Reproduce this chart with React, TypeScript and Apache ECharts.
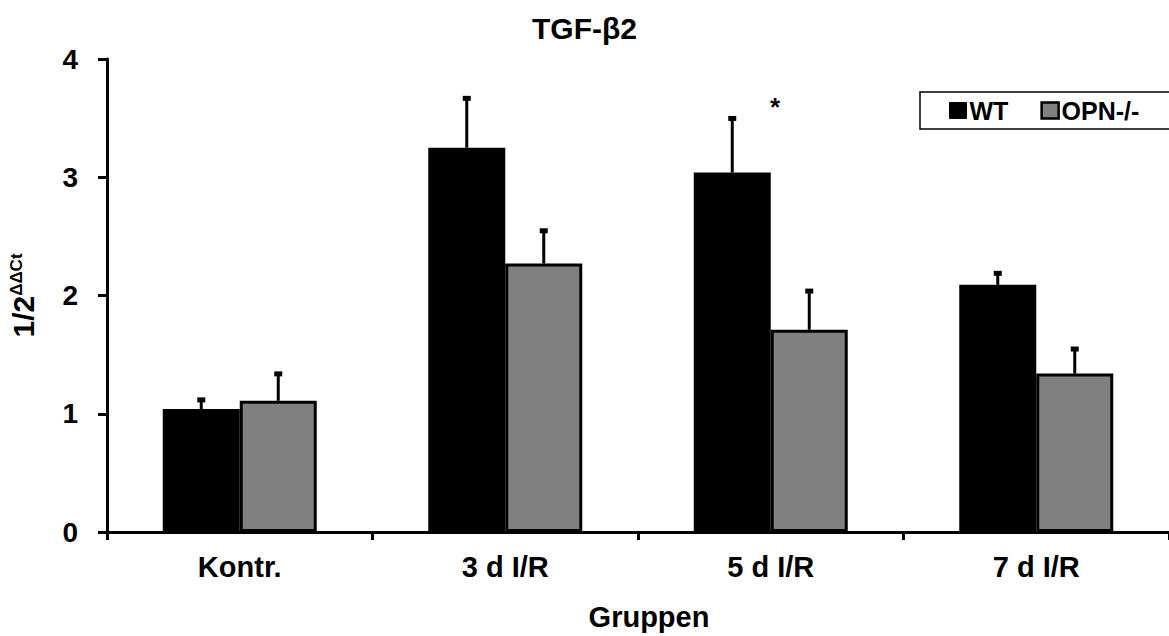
import React, { useEffect, useRef } from "react";
import * as echarts from "echarts";

const categories = ["Kontr.", "3 d I/R", "5 d I/R", "7 d I/R"];
const wtValues = [1.04, 3.25, 3.04, 2.09];
const wtErrorTops = [1.13, 3.68, 3.51, 2.2];
const opnValues = [1.11, 2.27, 1.71, 1.34];
const opnErrorTops = [1.35, 2.56, 2.05, 1.56];
const yTicks = [0, 1, 2, 3, 4];

const FONT = "Liberation Sans, Arial, sans-serif";
const BAR_FRAC = 0.29;

function errorSeries(name: string, values: number[], tops: number[], side: number) {
  return {
    type: "custom",
    name: name + "-err",
    z: 1,
    silent: true,
    data: values.map((v, i) => [i, tops[i], v]),
    renderItem: (params: any, api: any) => {
      const band = api.size([1, 0])[0];
      const off = side * band * BAR_FRAC * 0.5;
      const x = api.coord([api.value(0), 0])[0] + off;
      const yTop = api.coord([api.value(0), api.value(1)])[1];
      const yBase = api.coord([api.value(0), api.value(2)])[1];
      return {
        type: "group",
        children: [
          {
            type: "line",
            shape: { x1: x, y1: yBase, x2: x, y2: yTop + 2 },
            style: { stroke: "#000", lineWidth: 3 },
          },
          {
            type: "rect",
            shape: { x: x - 4, y: yTop - 1, width: 8, height: 5 },
            style: { fill: "#000" },
          },
        ],
      };
    },
  };
}

export default function App() {
  const ref = useRef<HTMLDivElement>(null);
  useEffect(() => {
    document.body.style.margin = "0";
    const chart = echarts.init(ref.current!, null, { renderer: "svg" });
    chart.setOption({
      animation: false,
      backgroundColor: "#fff",
      textStyle: { fontFamily: FONT },
      title: {
        text: "TGF-β2",
        left: "center",
        top: 8,
        textStyle: { fontFamily: FONT, fontSize: 30, fontWeight: "bold", color: "#000" },
      },
      legend: {
        left: 920,
        top: 92,
        width: 300,
        orient: "horizontal",
        data: [
          { name: "WT", itemStyle: { color: "#000", borderColor: "#000", borderWidth: 1 } },
          { name: "OPN-/-", itemStyle: { color: "#808080", borderColor: "#000", borderWidth: 2.5 } },
        ],
        icon: "rect",
        itemWidth: 17,
        itemHeight: 16,
        itemGap: 32,
        padding: [6, 40, 6, 29],
        borderColor: "#000",
        borderWidth: 1.5,
        textStyle: { fontFamily: FONT, fontSize: 25, fontWeight: "bold", color: "#000", padding: [0, 0, 0, -2] },
      },
      grid: { left: 107, right: 0, top: 59, bottom: 104, containLabel: false },
      xAxis: {
        type: "category",
        data: categories,
        name: "Gruppen",
        nameLocation: "middle",
        nameGap: 70,
        nameTextStyle: { fontFamily: FONT, fontSize: 29, fontWeight: "bold", color: "#000", padding: [0, 0, 0, 22] },
        axisLine: { lineStyle: { color: "#000", width: 3 } },
        axisTick: { show: true, length: 8, lineStyle: { color: "#000", width: 3 } },
        axisLabel: { margin: 20, fontFamily: FONT, fontSize: 29, fontWeight: "bold", color: "#000" },
      },
      yAxis: {
        type: "value",
        min: 0,
        max: 4,
        interval: 1,
        name: "{a|1/2}{b|ΔΔCt}",
        nameLocation: "middle",
        nameRotate: 90,
        nameGap: 68,
        nameTextStyle: {
          rich: {
            a: { fontFamily: FONT, fontSize: 30, fontWeight: "bold", color: "#000" },
            b: { fontFamily: FONT, fontSize: 17, fontWeight: "bold", color: "#000", verticalAlign: "top", padding: [0, 0, 14, 0] },
          },
        },
        splitLine: { show: false },
        axisLine: { show: true, lineStyle: { color: "#000", width: 3 } },
        axisTick: { show: true, length: 9, lineStyle: { color: "#000", width: 3 } },
        axisLabel: {
          margin: 29,
          fontFamily: FONT,
          fontSize: 28,
          fontWeight: "bold",
          color: "#000",
          formatter: (v: number) => (yTicks.includes(v) ? String(v) : ""),
        },
      },
      series: [
        errorSeries("WT", wtValues, wtErrorTops, -1),
        errorSeries("OPN-/-", opnValues, opnErrorTops, 1),
        {
          name: "WT",
          type: "bar",
          z: 2,
          data: wtValues,
          barWidth: BAR_FRAC * 100 + "%",
          barGap: "0%",
          itemStyle: { color: "#000", borderColor: "#000", borderWidth: 2 },
        },
        {
          name: "OPN-/-",
          type: "bar",
          z: 2,
          data: opnValues,
          barWidth: BAR_FRAC * 100 + "%",
          barGap: "0%",
          itemStyle: { color: "#808080", borderColor: "#000", borderWidth: 3 },
        },
      ],
      graphic: [
        {
          type: "text",
          left: 770,
          top: 94,
          style: { text: "*", font: "bold 26px " + FONT, fill: "#000" },
        },
      ],
    });
    return () => chart.dispose();
  }, []);
  return <div ref={ref} style={{ width: 1169, height: 636, position: "absolute", left: 0, top: 0 }} />;
}
